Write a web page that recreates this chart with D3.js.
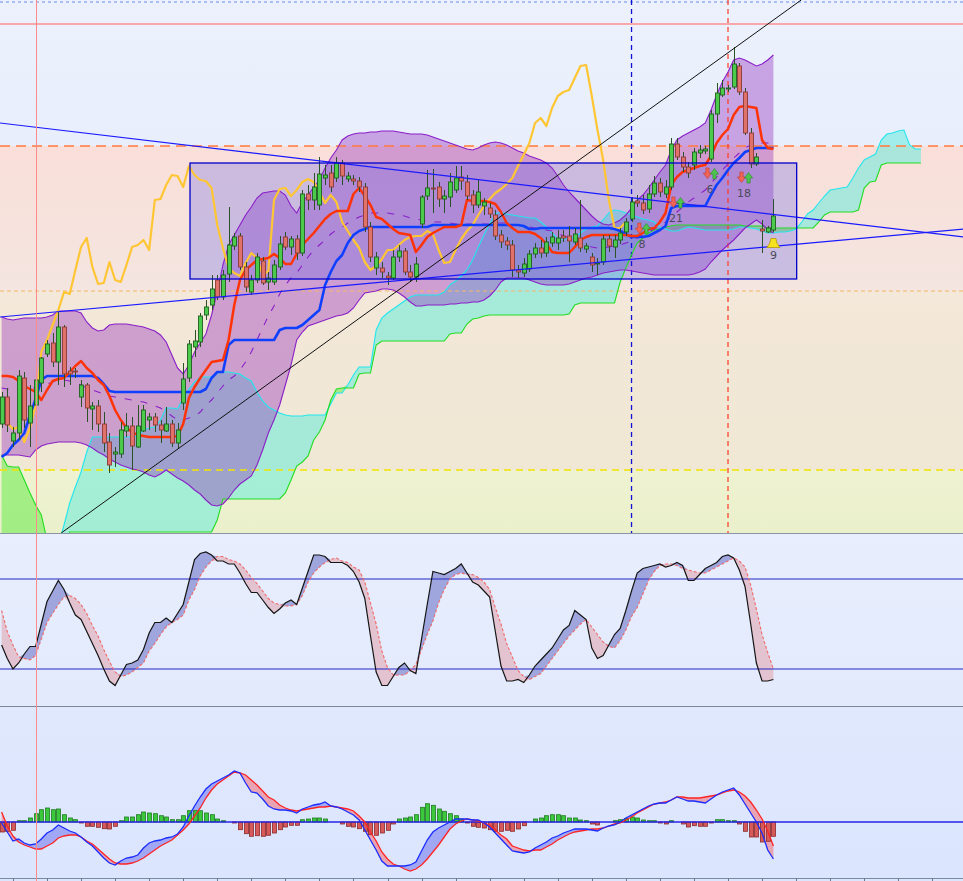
<!DOCTYPE html>
<html><head><meta charset="utf-8">
<script src="https://cdn.jsdelivr.net/npm/d3@7"></script>
<style>html,body{margin:0;padding:0;background:#fff;}svg{display:block;}</style>
</head><body>
<svg id="chart" width="963" height="881"></svg>
<script>
// ---------- DATA ----------
const open = [176,203,159,167,222,177,195,217,246,257, 238,273,229,229,203,215,191,194,176,158, 146,146,169,174,153,169,180,183,175,169, 176,157,197,222,253,258,285,295,320,303, 326,354,364,333,308,320,339,318,318,333, 363,353,361,347,406,400,395,422,427,422, 437,421,421,419,413,373,332,332,324,322, 343,349,328,323,376,404,412,413,401,403, 410,423,418,405,395,394,392,385,365,359, 355,330,327,331,346,352,347,357,357,364, 364,358,362,351,343,336,338,361,353,360, 368,381,399,397,391,406,417,406,413,456, 443,433,435,447,449,441,486,505,511,513, 534,508,467,436,371,368,370];
const close = [203,175,167,224,180,194,220,242,256,238, 273,226,226,228,215,192,194,176,157,135, 148,170,174,154,174,190,183,175,170,176, 157,170,221,256,259,284,293,311,303,325, 355,363,333,313,320,343,317,322,335,356, 353,361,347,406,400,413,426,425,413,437, 424,424,419,413,373,343,343,328,322,343, 349,328,323,336,403,412,411,401,404,418, 422,419,404,395,408,398,386,364,358,355, 330,328,336,346,352,347,358,363,362,362, 359,366,352,354,335,337,361,354,360,367, 378,398,397,390,406,417,408,413,456,443, 433,427,448,450,451,486,507,512,512,536, 508,467,436,443,369,372,384];
const high = [208,212,173,230,228,215,224,243,260,267, 288,275,233,232,220,217,198,200,188,167, 153,178,187,183,195,195,187,187,180,193, 180,177,237,260,270,287,300,325,325,330, 393,367,367,338,325,347,343,328,340,364, 368,364,365,410,415,427,443,435,435,443, 440,428,425,423,417,378,348,338,328,350, 355,352,335,343,405,430,431,418,410,427, 434,434,425,410,420,402,397,390,370,363, 360,335,342,350,357,360,363,368,370,370, 374,372,400,357,347,342,365,365,365,372, 382,403,405,405,415,424,422,420,462,462, 448,438,452,455,454,490,517,520,515,553, 537,512,472,447,380,374,401];
const low = [172,168,153,160,172,153,192,208,243,233, 215,213,215,222,193,178,170,168,148,127, 133,142,163,130,152,168,170,168,157,168, 153,152,190,218,243,253,280,290,300,300, 318,350,330,308,305,317,315,310,315,330, 350,345,340,344,390,390,390,415,408,418, 415,418,415,408,368,338,325,322,315,320, 338,325,318,318,372,400,387,393,387,393, 407,410,400,387,392,385,382,360,352,350, 323,322,323,328,342,342,343,353,350,358, 338,355,348,347,328,325,335,348,342,356, 364,378,393,386,387,403,403,402,410,440, 428,422,430,442,446,438,477,503,508,511, 505,465,432,434,347,367,368];

const tenkan = [224,224,223,219,214,211,208,200,210,219, 221,222,228,234,239,232,227,220,215,204, 190,180,172,168,165,164,163,163,163,163, 163,164,176,202,213,222,230,238,239,240, 260,295,320,330,335,340,341,342,346,342, 336,336,346,355,361,367,374,381,386,389, 389,389,406,412,404,395,383,381,376,371, 367,366,365,348,355,363,367,370,373,373, 373,375,400,399,399,399,398,396,388,377, 372,368,368,368,366,362,356,348,347,347, 347,353,360,363,365,365,365,365,365,365, 365,364,364,367,371,372,378,387,415,423, 428,430,432,434,435,444,457,465,471,485, 493,494,493,492,460,452,451];
const kijun = [143,147,155,160,167,185,201,220,224,224, 224,224,224,224,224,224,224,222,216,209, 208,208,208,208,208,208,208,208,208,208, 208,208,208,208,208,208,211,222,228,228, 255,260,260,260,260,260,260,260,260,270, 272,272,272,275,280,285,290,315,328,339, 345,357,365,369,371,373,373,373,373,373, 373,373,373,373,373,373,375,375,375,375, 375,375,375,375,375,375,375,375,375,375, 375,375,374,371,371,372,372,372,372,372, 372,372,372,372,372,372,372,372,371,369, 366,363,363,363,364,367,370,374,392,394, 394,394,394,394,394,405,415,422,430,437, 442,448,450,452,452,452,452];
const chikou = [184,177,171,173,158,172,195,248,260,275, 290,308,306,330,353,362,333,316,317,338, 320,318,335,353,355,360,350,400,401,415, 425,424,413,434,425,420,419,412,375,352, 332,327,324,337,347,342,325,329,400,411, 412,404,410,418,421,418,408,397,405,398, 378,369,360,352,338,330,334,341,350,350, 355,360,363,364,364,369,366,350,337,338, 350,361,369,375,385,394,401,407,411,416, 422,434,445,457,477,482,474,492,504,508, 510,522,534,535,504,470,440,400,372,372,378];
const senkouA = [20,20,20,20,20,20,20,20,20,25, 55,75,97,113,128,148,163,163,163,163, 163,163,163,163,164,170,172,173,180,192, 192,191,202,211,218,223,223,223,227,228, 228,227,226,222,219,208,199,193,190,187, 185,184,184,184,185,185,185,185,196,207, 207,215,225,233,233,233,270,282,287,291, 295,299,303,305,305,305,305,305,308,315, 319,324,330,340,353,365,376,386,388,386, 385,384,383,382,382,378,373,367,361,361, 362,363,367,371,373,374,380,387,390,389, 387,385,383,381,380,378,373,371,369,369, 371,373,372,371,370,370,370,370,370,371, 373,373,372,371,369,367,367,368,368,369, 371,378,386,390,397,404,410,411,412,413, 422,432,440,443,446,460,466,467,469,470, 455,451,451];
const senkouB = [145,134,133,133,120,107,95,85,60,40, 40,40,68,68,68,68,68,68,68,68, 68,68,68,68,68,68,68,68,68,68, 68,68,68,68,68,68,68,68,80,101, 101,101,101,101,101,101,101,101,101,101, 107,120,134,138,144,160,168,180,200,211, 212,212,212,226,227,227,255,259,259,259, 259,259,259,259,259,259,259,259,259,266, 267,267,276,281,282,284,285,285,285,285, 285,285,285,285,285,285,285,285,285,285, 286,295,297,297,297,297,297,297,297,318, 332,345,357,362,367,370,371,373,374,375, 375,375,375,375,375,375,375,375,375,375, 375,374,374,374,374,372,372,372,372,372, 372,372,372,372,378,385,388,388,388,388, 388,390,412,418,419,435,437,437,437,437, 437,437,437];
const bbUpper = [283,281,280,281,282,282,282,282,283,285, 289,289,289,289,287,278,272,269,270,275, 276,276,276,275,274,273,271,269,265,258, 245,232,226,235,248,257,266,285,308,335, 355,365,375,385,393,402,407,408,409,409, 405,394,387,398,405,413,420,432,442,450, 460,464,466,467,467,468,468,469,469,469, 468,467,466,466,466,465,463,461,459,457, 455,453,451,450,452,455,457,458,457,455, 452,449,447,444,442,440,437,432,424,415, 408,402,396,390,384,379,376,375,377,380, 385,392,400,405,412,420,428,435,450,460, 464,467,470,473,477,490,505,518,528,540, 542,540,537,534,536,540,545];
const bbMid = [212,211,210,210,211,212,212,214,216,218, 220,220,219,217,215,212,210,208,206,204, 203,202,201,200,199,198,196,194,192,188, 184,180,180,182,183,188,195,200,207,214, 220,224,230,238,248,260,272,284,294,306, 315,322,327,335,343,350,355,360,366,370, 373,377,380,383,385,387,387,387,387,386, 385,384,382,381,380,379,378,378,378,377, 376,376,376,376,376,376,376,377,377,377, 376,375,374,373,372,371,370,369,367,364, 362,360,357,355,353,352,352,353,354,355, 357,359,362,365,368,371,374,378,383,388, 393,398,402,406,410,417,423,430,436,442, 447,452,455,457,457,457,457];
const bbLower = [145,145,145,145,144,143,150,154,156,157, 158,158,158,158,157,155,152,148,145,141, 138,135,133,131,130,128,125,123,126,130, 126,122,119,115,110,106,100,95,94,96, 102,110,116,120,124,135,150,167,180,195, 215,235,260,268,274,276,278,280,282,284, 285,287,292,300,307,308,309,311,311,310, 307,303,298,294,294,295,295,295,295,296, 296,297,297,298,298,300,304,310,318,322, 322,322,322,320,318,316,315,315,315,315, 316,318,320,322,323,325,327,328,329,330, 330,329,328,327,326,325,325,325,325,325, 325,325,326,328,331,338,344,350,355,360, 366,372,376,380,376,370,367];

const stochK = [36,27,20,24,30,35,35,50,65,72, 79,73,64,56,53,45,37,29,20,12, 9,16,23,24,26,33,44,51,51,54, 51,57,63,78,93,97,98,96,92,92, 90,90,84,77,71,71,66,61,57,60, 64,66,63,74,85,96,96,95,91,91, 91,89,85,78,67,42,18,9,9,15, 21,24,19,17,40,63,85,84,83,85, 87,90,84,78,76,72,68,45,22,12, 12,13,11,16,22,26,30,34,40,46, 49,59,56,53,34,27,29,36,43,47, 59,72,84,87,88,89,90,88,89,91, 89,79,79,83,87,89,91,95,96,94, 86,75,50,24,12,12,13];
const stochD = [59,45,36,28,27,26,29,40,51,57, 63,68,69,67,63,57,49,42,33,25, 18,15,16,18,21,24,32,37,43,48, 51,53,56,66,73,82,88,92,95,95, 93,92,90,86,81,77,72,67,64,63, 62,62,63,69,78,84,88,91,93,94, 92,91,88,86,78,64,50,32,21,16, 16,16,19,23,33,43,52,64,73,80, 83,84,83,83,81,78,73,61,50,37, 28,19,15,13,15,17,22,27,32,37, 42,46,50,53,48,43,38,35,34,39, 46,55,61,70,79,85,89,90,90,89, 87,86,85,84,84,86,88,90,92,94, 92,88,76,60,43,31,20];
const stochLevels = [80, 20];

const macdLine = [-1,-10,-19,-17,-21,-23,-22,-17,-11,-8, -3,-6,-9,-11,-15,-20,-24,-30,-36,-41, -43,-39,-36,-35,-33,-26,-21,-19,-18,-16, -15,-12,-5,6,16,25,33,38,41,44, 47,51,49,39,30,29,23,16,13,12, 12,11,9,13,15,17,18,20,16,15, 13,10,7,2,-8,-18,-28,-39,-44,-44, -44,-44,-43,-40,-29,-18,-10,-6,-3,0, 3,3,3,2,2,-1,-5,-11,-17,-23, -29,-30,-31,-30,-26,-23,-20,-16,-14,-11, -9,-7,-7,-7,-8,-9,-6,-4,-3,0, 4,7,10,13,16,18,19,19,22,25, 23,21,21,20,19,23,27,30,32,34, 27,18,9,0,-11,-28,-37];
const macdSignal = [10,-4,-14,-20,-23,-25,-27,-27,-24,-21, -16,-14,-13,-13,-15,-19,-22,-27,-32,-37, -41,-42,-42,-41,-39,-36,-32,-28,-24,-21, -18,-13,-8,-2,6,14,24,32,38,42, 46,50,49,47,42,37,31,25,22,17, 14,12,11,12,13,14,15,15,16,15, 14,13,11,6,0,-10,-19,-30,-37,-42, -44,-47,-49,-47,-43,-37,-30,-23,-15,-7, -2,1,3,2,1,-1,-3,-8,-13,-17, -24,-26,-28,-29,-28,-28,-25,-22,-18,-15, -12,-10,-9,-8,-7,-7,-6,-4,-2,-1, 2,5,9,12,15,18,19,20,22,25, 25,24,24,24,25,26,27,29,31,32, 30,26,20,12,3,-9,-24];
const macdHist = [-10,-9.3,-8.3,1.3,1.3,4,8.3,12.3,14,12.3, 13,7.3,4,2.3,-1,-4.3,-4.3,-5.3,-6.7,-7, -4.3,1.3,5,5,7.3,10,9,8.3,6.3,5, 2.3,2.3,6.3,11.3,11.3,11.3,9,7.3,3,1.3, 0,-1,-7.7,-11.7,-14.3,-13.7,-14.3,-13.3,-11,-7.7, -5,-3.3,-3.3,2.3,3,4,4,3,0,0, -2,-4.3,-5,-6.7,-9.3,-12.7,-13.3,-11,-8.3,-2, 3,4,5,7.3,14.7,18.3,16.7,13,10.7,8.3, 6.3,3,-1,-4.3,-5.3,-6,-7.7,-9.3,-9.3,-8.3, -9.3,-7,-3.7,0,3,4,6.3,7.3,7.3,6.3, 4,4,2,1.3,-2,-3,0,0,1.3,2.3, 3.3,5,4,2,1.3,1.3,-1,-2,1.3,0, -2,-5,-3.7,-4.3,-4.3,-1,2.3,2.3,1.3,1.3, -2,-9.3,-15,-15,-20,-19.3,-14.3];

// horizontal price levels: top dotted, red, orange dashed, orange dotted, yellow dashed
const hLevels = [598, 576, 454, 309, 130];
// vertical markers (bar index): red solid, blue dashed, red dashed
const vBars = [6, 111, 128];
// drawn trend lines [bar1, price1, bar2, price2]
const trendBlack = [10.5, 67, 140.9, 600];
const trendDown = [-0.3, 477, 169.5, 363];
const trendUp = [-0.3, 283, 169.5, 371];
// rectangle [bar1, bar2, priceTop, priceBottom]
const boxZone = [33.2, 140.1, 437, 321];
// signal markers
const markerBars = [113, 119, 125, 131];
const markerPrices = [371, 397, 426, 422];
const markerLabels = ["8", "21", "6", "18"];
const bellBar = 136, bellPrice = 357, bellLabel = "9";

// ---------- SCALES ----------
const W = 963, H = 881;
const x = d3.scaleLinear().domain([0, 136]).range([1.6, 773.4]);
const yP = d3.scaleLinear().domain([67, 600]).range([533, 0]);
const yS = d3.scaleLinear().domain([0, 100]).range([699, 549]);
const yM = d3.scaleLinear().domain([-59, 116]).range([881, 706]);

const svg = d3.select('#chart');
const defs = svg.append('defs');
defs.append('clipPath').attr('id', 'cMain').append('rect').attr('x', 0).attr('y', 0).attr('width', W).attr('height', yP(67));
defs.append('clipPath').attr('id', 'cSt').append('rect').attr('x', 0).attr('y', yP(67)).attr('width', W).attr('height', 706 - yP(67));
defs.append('clipPath').attr('id', 'cM').append('rect').attr('x', 0).attr('y', 706).attr('width', W).attr('height', H - 706);

function grad(id, c1, c2) {
  const g = defs.append('linearGradient').attr('id', id).attr('x1', 0).attr('y1', 0).attr('x2', 0).attr('y2', 1);
  g.append('stop').attr('offset', '0%').attr('stop-color', c1);
  g.append('stop').attr('offset', '100%').attr('stop-color', c2);
}
grad('gz0', '#ecf1fd', '#e9eefc');
grad('gz1', '#fadfd9', '#f4e5e0');
grad('gz2', '#f3e8d9', '#f0e7d4');
grad('gz3', '#eef2d0', '#ebf0cc');
grad('gSt', '#e8eefd', '#e2eafc');
grad('gM', '#e0e8fd', '#dbe5fd');

// ---------- BACKGROUND ----------
const bg = svg.append('g');
const zoneEdges = [600, hLevels[2], hLevels[3], hLevels[4], 67];
for (let k = 0; k < 4; k++) {
  bg.append('rect').attr('x', 0).attr('width', W)
    .attr('y', yP(zoneEdges[k])).attr('height', yP(zoneEdges[k + 1]) - yP(zoneEdges[k]))
    .attr('fill', `url(#gz${k})`);
}
bg.append('rect').attr('x', 0).attr('width', W).attr('y', yP(67)).attr('height', 706 - yP(67)).attr('fill', 'url(#gSt)');
bg.append('rect').attr('x', 0).attr('width', W).attr('y', 706).attr('height', H - 706).attr('fill', 'url(#gM)');

// ---------- MAIN PANEL ----------
const gMain = svg.append('g').attr('clip-path', 'url(#cMain)');
const idx = d3.range(close.length);
const idxC = d3.range(senkouA.length);
const idxK = d3.range(chikou.length);

// cloud fills
gMain.append('path').datum(idxC)
  .attr('d', d3.area().x(i => x(i)).y0(i => yP(senkouB[i])).y1(i => yP(Math.max(senkouA[i], senkouB[i]))))
  .attr('fill', 'rgba(90,235,220,0.5)');
gMain.append('path').datum(idxC)
  .attr('d', d3.area().x(i => x(i)).y0(i => yP(senkouA[i])).y1(i => yP(Math.max(senkouA[i], senkouB[i]))))
  .attr('fill', 'rgba(90,235,60,0.5)');

// Bollinger fill
gMain.append('path').datum(idx)
  .attr('d', d3.area().x(i => x(i)).y0(i => yP(bbLower[i])).y1(i => yP(bbUpper[i])))
  .attr('fill', 'rgba(150,50,190,0.4)');

// rectangle fill
gMain.append('rect')
  .attr('x', x(boxZone[0])).attr('width', x(boxZone[1]) - x(boxZone[0]))
  .attr('y', yP(boxZone[2])).attr('height', yP(boxZone[3]) - yP(boxZone[2]))
  .attr('fill', 'rgba(100,100,232,0.3)');

// horizontal levels
const hStyles = [
  { c: '#a9bff2', w: 2, d: '3,3' },
  { c: '#ff8e8e', w: 1.3, d: null },
  { c: '#ff7a3c', w: 1.3, d: '10,6' },
  { c: '#f6b665', w: 1, d: '4,3' },
  { c: '#f2e400', w: 1.5, d: '7,5' }
];
hLevels.forEach((lv, k) => {
  gMain.append('line').attr('x1', 0).attr('x2', W).attr('y1', yP(lv)).attr('y2', yP(lv))
    .attr('stroke', hStyles[k].c).attr('stroke-width', hStyles[k].w)
    .attr('stroke-dasharray', hStyles[k].d);
});
// vertical dashed lines (main panel only)
gMain.append('line').attr('x1', x(vBars[1])).attr('x2', x(vBars[1])).attr('y1', 0).attr('y2', yP(67))
  .attr('stroke', '#1010d8').attr('stroke-width', 1.3).attr('stroke-dasharray', '5,4');
gMain.append('line').attr('x1', x(vBars[2])).attr('x2', x(vBars[2])).attr('y1', 0).attr('y2', yP(67))
  .attr('stroke', '#ff3a22').attr('stroke-width', 1.2).attr('stroke-dasharray', '5,4');

// cloud and BB lines
const lineP = arr => d3.line().x(i => x(i)).y(i => yP(arr[i]));
gMain.append('path').datum(idxC).attr('d', lineP(senkouA)).attr('fill', 'none').attr('stroke', '#22e6ee').attr('stroke-width', 1.1);
gMain.append('path').datum(idxC).attr('d', lineP(senkouB)).attr('fill', 'none').attr('stroke', '#22dd22').attr('stroke-width', 1.1);
gMain.append('path').datum(idx).attr('d', lineP(bbUpper)).attr('fill', 'none').attr('stroke', '#8a1fc8').attr('stroke-width', 1.1);
gMain.append('path').datum(idx).attr('d', lineP(bbLower)).attr('fill', 'none').attr('stroke', '#8a1fc8').attr('stroke-width', 1.1);
gMain.append('path').datum(idx).attr('d', lineP(bbMid)).attr('fill', 'none').attr('stroke', '#8a1fc8').attr('stroke-width', 1.1).attr('stroke-dasharray', '7,9');

// ichimoku lines
gMain.append('path').datum(idxK).attr('d', lineP(chikou)).attr('fill', 'none').attr('stroke', '#ffc634').attr('stroke-width', 2.2).attr('stroke-linejoin', 'round');
gMain.append('path').datum(idx).attr('d', lineP(kijun)).attr('fill', 'none').attr('stroke', '#1040ff').attr('stroke-width', 2.6).attr('stroke-linejoin', 'round');
gMain.append('path').datum(idx).attr('d', lineP(tenkan)).attr('fill', 'none').attr('stroke', '#ff3308').attr('stroke-width', 2.5).attr('stroke-linejoin', 'round');

// candles
const gC = gMain.append('g');
const up = i => close[i] >= open[i];
gC.selectAll('line.w').data(idx).join('line').attr('class', 'w')
  .attr('x1', i => Math.round(x(i)) + 0.5).attr('x2', i => Math.round(x(i)) + 0.5)
  .attr('y1', i => yP(high[i])).attr('y2', i => yP(low[i]))
  .attr('stroke', '#2a5226').attr('stroke-width', 1);
gC.selectAll('rect.b').data(idx).join('rect').attr('class', 'b')
  .attr('x', i => Math.round(x(i)) - 1.5).attr('width', 4)
  .attr('y', i => yP(Math.max(open[i], close[i])))
  .attr('height', i => Math.max(1, Math.abs(yP(open[i]) - yP(close[i]))))
  .attr('fill', i => up(i) ? '#4cca4c' : '#e0726a')
  .attr('stroke', i => up(i) ? '#1f5e1f' : '#8a3b36').attr('stroke-width', 0.9);

// trend lines & rectangle border
const tl = (t, c, w) => gMain.append('line')
  .attr('x1', x(t[0])).attr('y1', yP(t[1])).attr('x2', x(t[2])).attr('y2', yP(t[3]))
  .attr('stroke', c).attr('stroke-width', w);
tl(trendDown, '#1a1aff', 1.2);
tl(trendUp, '#1a1aff', 1.2);
tl(trendBlack, '#111111', 1);
gMain.append('rect')
  .attr('x', x(boxZone[0])).attr('width', x(boxZone[1]) - x(boxZone[0]))
  .attr('y', yP(boxZone[2])).attr('height', yP(boxZone[3]) - yP(boxZone[2]))
  .attr('fill', 'none').attr('stroke', '#0000cc').attr('stroke-width', 1.3);

// signal markers
const gMk = gMain.append('g');
markerBars.forEach((b, k) => {
  const cx = x(b), cy = yP(markerPrices[k]);
  const dx = cx - 3.5, ux = cx + 3.5;
  gMk.append('path')
    .attr('d', `M${dx - 1.6},${cy - 6}h3.2v5h2.6l-4.2,5.5l-4.2,-5.5h2.6z`)
    .attr('fill', '#f26456').attr('stroke', '#c03a2e').attr('stroke-width', 0.6);
  gMk.append('path')
    .attr('d', `M${ux - 1.6},${cy + 5}h3.2v-5h2.6l-4.2,-5.5l-4.2,5.5h2.6z`)
    .attr('fill', '#4fc44f').attr('stroke', '#278a27').attr('stroke-width', 0.6);
  gMk.append('text').attr('x', cx - 1).attr('y', cy + 19).attr('text-anchor', 'middle')
    .attr('font-family', 'DejaVu Sans, sans-serif').attr('font-size', 11).attr('fill', '#4a4a5a')
    .text(markerLabels[k]);
});
{
  const cx = x(bellBar), cy = yP(bellPrice);
  gMk.append('path')
    .attr('d', `M${cx - 6.5},${cy + 4.5}L${cx + 6.5},${cy + 4.5}L${cx + 3.5},${cy}L${cx + 2.5},${cy - 4.5}L${cx - 2.5},${cy - 4.5}L${cx - 3.5},${cy}Z`)
    .attr('fill', '#f6e21c').attr('stroke', '#b89a00').attr('stroke-width', 0.8);
  gMk.append('text').attr('x', cx).attr('y', cy + 16).attr('text-anchor', 'middle')
    .attr('font-family', 'DejaVu Sans, sans-serif').attr('font-size', 11).attr('fill', '#4a4a5a')
    .text(bellLabel);
}

// ---------- STOCHASTIC PANEL ----------
const gSt = svg.append('g').attr('clip-path', 'url(#cSt)');
gSt.append('path').datum(idx)
  .attr('d', d3.area().x(i => x(i)).y0(i => yS(stochD[i])).y1(i => yS(Math.max(stochK[i], stochD[i]))))
  .attr('fill', '#9ea6dd');
gSt.append('path').datum(idx)
  .attr('d', d3.area().x(i => x(i)).y0(i => yS(stochD[i])).y1(i => yS(Math.min(stochK[i], stochD[i]))))
  .attr('fill', '#e2c3cf');
stochLevels.forEach(l => gSt.append('line').attr('x1', 0).attr('x2', W).attr('y1', yS(l)).attr('y2', yS(l))
  .attr('stroke', '#2626c4').attr('stroke-width', 1.2));
gSt.append('path').datum(idx).attr('d', d3.line().x(i => x(i)).y(i => yS(stochD[i])))
  .attr('fill', 'none').attr('stroke', '#f26a6a').attr('stroke-width', 1.1).attr('stroke-dasharray', '3,2');
gSt.append('path').datum(idx).attr('d', d3.line().x(i => x(i)).y(i => yS(stochK[i])))
  .attr('fill', 'none').attr('stroke', '#151515').attr('stroke-width', 1.2);

// ---------- MACD PANEL ----------
const gM = svg.append('g').attr('clip-path', 'url(#cM)');
gM.append('path').datum(idx)
  .attr('d', d3.area().x(i => x(i)).y0(i => yM(macdSignal[i])).y1(i => yM(Math.max(macdLine[i], macdSignal[i]))))
  .attr('fill', '#a0a8f6');
gM.append('path').datum(idx)
  .attr('d', d3.area().x(i => x(i)).y0(i => yM(macdSignal[i])).y1(i => yM(Math.min(macdLine[i], macdSignal[i]))))
  .attr('fill', '#e8a4b2');
gM.selectAll('rect.h').data(idx.filter(i => macdHist[i] !== 0)).join('rect').attr('class', 'h')
  .attr('x', i => Math.round(x(i)) - 1.5).attr('width', 4)
  .attr('y', i => yM(Math.max(0, macdHist[i])))
  .attr('height', i => Math.abs(yM(macdHist[i]) - yM(0)))
  .attr('fill', i => macdHist[i] > 0 ? '#3cc83c' : '#d65a5a')
  .attr('stroke', i => macdHist[i] > 0 ? '#1f7a1f' : '#8a2a2a').attr('stroke-width', 0.8);
gM.append('line').attr('x1', 0).attr('x2', W).attr('y1', yM(0)).attr('y2', yM(0))
  .attr('stroke', '#2424e6').attr('stroke-width', 1.4);
gM.append('path').datum(idx).attr('d', d3.line().x(i => x(i)).y(i => yM(macdSignal[i])))
  .attr('fill', 'none').attr('stroke', '#ff2424').attr('stroke-width', 1.3);
gM.append('path').datum(idx).attr('d', d3.line().x(i => x(i)).y(i => yM(macdLine[i])))
  .attr('fill', 'none').attr('stroke', '#1a2cff').attr('stroke-width', 1.3);

// ---------- SEPARATORS, AXIS, CURSOR ----------
svg.append('line').attr('x1', 0).attr('x2', W).attr('y1', yP(67) + 0.5).attr('y2', yP(67) + 0.5).attr('stroke', '#8a96a6').attr('stroke-width', 1);
svg.append('line').attr('x1', 0).attr('x2', W).attr('y1', 706.5).attr('y2', 706.5).attr('stroke', '#7c8898').attr('stroke-width', 1);
svg.append('line').attr('x1', 0).attr('x2', W).attr('y1', 878.5).attr('y2', 878.5).attr('stroke', '#7a8aa0').attr('stroke-width', 1);
const tickBars = d3.range(2, 172, 6);
svg.selectAll('line.tk').data(tickBars).join('line').attr('class', 'tk')
  .attr('x1', b => Math.round(x(b)) + 0.5).attr('x2', b => Math.round(x(b)) + 0.5)
  .attr('y1', 878).attr('y2', H).attr('stroke', '#6a7a90').attr('stroke-width', 1);
svg.append('line').attr('x1', Math.round(x(vBars[0])) + 0.5).attr('x2', Math.round(x(vBars[0])) + 0.5)
  .attr('y1', 0).attr('y2', H).attr('stroke', '#ff8a8a').attr('stroke-width', 1);
</script>
</body></html>
